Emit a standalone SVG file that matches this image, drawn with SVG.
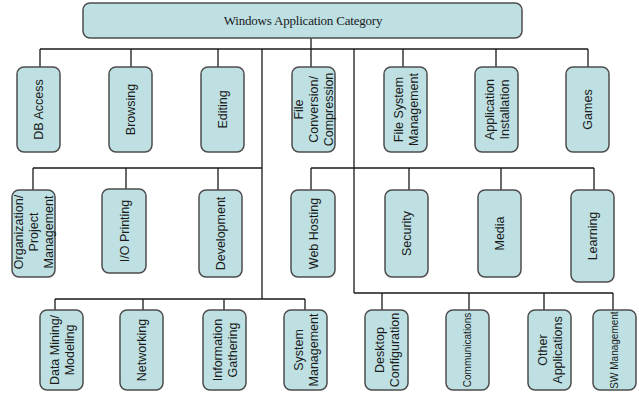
<svg xmlns="http://www.w3.org/2000/svg" width="639" height="395" viewBox="0 0 639 395">
<style>
.n{fill:#bee0e3;stroke:#4d4d4d;stroke-width:1.5}
.t{font-family:"Liberation Sans",Arial,sans-serif;font-size:12.5px;fill:#1a1a1a;text-anchor:middle}
.s{font-size:10px}
.c{fill:none;stroke:#1a1a1a;stroke-width:1.3}
</style>
<rect width="639" height="395" fill="#fff"/>
<g id="connectors" class="c">
<path d="M311 37V49M40 49H588M40 49V67M131 49V67M218 49V67M311 49V67M403 49V67M496 49V67M588 49V67"/>
<path d="M262 49V299M354 49V293"/>
<path d="M33 168H262M33 168V190M126 168V189M218 168V190"/>
<path d="M311 168H594M311 168V190M409 168V190M501 168V190M594 168V190"/>
<path d="M55 299H305M55 299V310M143 299V310M224 299V310M305 299V310"/>
<path d="M354 293H613M382 293V310M469 293V310M544 293V310M613 293V310"/>
</g>
<g id="root"><rect class="n" x="83" y="3" width="439" height="35" rx="7"/><text x="303" y="25" style="font-family:'Liberation Serif','Times New Roman',serif;font-size:13px;fill:#1a1a1a;text-anchor:middle;letter-spacing:-0.2px">Windows Application Category</text></g>
<g id="db-access"><rect class="n" x="17" y="67" width="43" height="85" rx="7"/><text class="t" transform="translate(38.5,109.5) rotate(-90)" y="4.5">DB Access</text></g>
<g id="browsing"><rect class="n" x="109" y="67" width="43" height="85" rx="7"/><text class="t" transform="translate(130.5,109.5) rotate(-90)" y="4.5">Browsing</text></g>
<g id="editing"><rect class="n" x="201" y="67" width="43" height="85" rx="7"/><text class="t" transform="translate(222.5,109.5) rotate(-90)" y="4.5">Editing</text></g>
<g id="file-conversion"><rect class="n" x="292" y="67" width="43" height="85" rx="7"/><text class="t" transform="translate(313.5,109.5) rotate(-90)"><tspan x="0" y="-10.5">File</tspan><tspan x="0" y="4.5">Conversion/</tspan><tspan x="0" y="19.5">Compression</tspan></text></g>
<g id="file-system-management"><rect class="n" x="384" y="67" width="43" height="85" rx="7"/><text class="t" transform="translate(405.5,109.5) rotate(-90)"><tspan x="0" y="-3">File System</tspan><tspan x="0" y="12">Management</tspan></text></g>
<g id="application-installation"><rect class="n" x="475" y="67" width="43" height="85" rx="7"/><text class="t" transform="translate(496.5,109.5) rotate(-90)"><tspan x="0" y="-3">Application</tspan><tspan x="0" y="12">Installation</tspan></text></g>
<g id="games"><rect class="n" x="566" y="67" width="43" height="85" rx="7"/><text class="t" transform="translate(587.5,109.5) rotate(-90)" y="4.5">Games</text></g>
<g id="organization"><rect class="n" x="12" y="190" width="43" height="87" rx="7"/><text class="t" transform="translate(33.5,232) rotate(-90)"><tspan x="0" y="-10.5">Organization/</tspan><tspan x="0" y="4.5">Project</tspan><tspan x="0" y="19.5">Management</tspan></text></g>
<g id="io-printing"><rect class="n" x="102" y="189" width="44" height="84" rx="7"/><text class="t" transform="translate(124,231) rotate(-90)" y="4.5">I/O Printing</text></g>
<g id="development"><rect class="n" x="199" y="190" width="43" height="87" rx="7"/><text class="t" transform="translate(220.5,233.5) rotate(-90)" y="4.5">Development</text></g>
<g id="web-hosting"><rect class="n" x="291" y="190" width="44" height="87" rx="7"/><text class="t" transform="translate(313,233.5) rotate(-90)" y="4.5">Web Hosting</text></g>
<g id="security"><rect class="n" x="385" y="190" width="43" height="87" rx="7"/><text class="t" transform="translate(406.5,233.5) rotate(-90)" y="4.5">Security</text></g>
<g id="media"><rect class="n" x="478" y="190" width="43" height="87" rx="7"/><text class="t" transform="translate(499.5,233.5) rotate(-90)" y="4.5">Media</text></g>
<g id="learning"><rect class="n" x="571" y="190" width="43" height="92" rx="7"/><text class="t" transform="translate(592.5,236) rotate(-90)" y="4.5">Learning</text></g>
<g id="data-mining"><rect class="n" x="40" y="310" width="43" height="80" rx="7"/><text class="t" transform="translate(61.5,350) rotate(-90)"><tspan x="0" y="-3">Data Mining/</tspan><tspan x="0" y="12">Modeling</tspan></text></g>
<g id="networking"><rect class="n" x="120" y="310" width="43" height="80" rx="7"/><text class="t" transform="translate(141.5,350) rotate(-90)" y="4.5">Networking</text></g>
<g id="information-gathering"><rect class="n" x="203" y="310" width="43" height="80" rx="7"/><text class="t" transform="translate(224.5,350) rotate(-90)"><tspan x="0" y="-3">Information</tspan><tspan x="0" y="12">Gathering</tspan></text></g>
<g id="system-management"><rect class="n" x="284" y="310" width="43" height="80" rx="7"/><text class="t" transform="translate(305.5,350) rotate(-90)"><tspan x="0" y="-3">System</tspan><tspan x="0" y="12">Management</tspan></text></g>
<g id="desktop-configuration"><rect class="n" x="365" y="310" width="43" height="80" rx="7"/><text class="t" transform="translate(386.5,350) rotate(-90)"><tspan x="0" y="-3">Desktop</tspan><tspan x="0" y="12">Configuration</tspan></text></g>
<g id="communications"><rect class="n" x="446" y="310" width="43" height="80" rx="7"/><text class="t s" transform="translate(467.5,350) rotate(-90)" y="3.5">Communications</text></g>
<g id="other-applications"><rect class="n" x="528" y="310" width="43" height="80" rx="7"/><text class="t" transform="translate(549.5,350) rotate(-90)"><tspan x="0" y="-3">Other</tspan><tspan x="0" y="12">Applications</tspan></text></g>
<g id="sw-management"><rect class="n" x="593" y="310" width="43" height="80" rx="7"/><text class="t s" transform="translate(614.5,350) rotate(-90)" y="3.5">SW Management</text></g>
</svg>
